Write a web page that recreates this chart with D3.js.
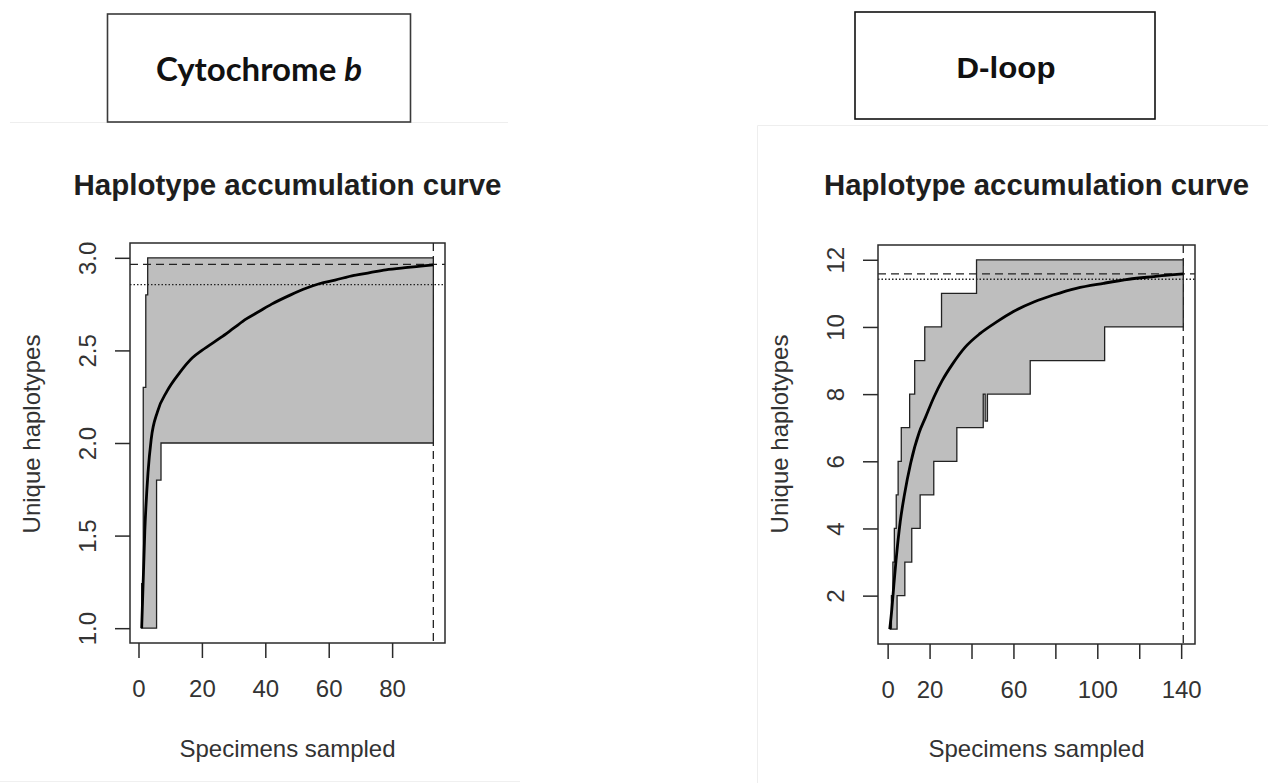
<!DOCTYPE html>
<html><head><meta charset="utf-8">
<script src="https://cdn.jsdelivr.net/npm/d3@7"></script>
<style>body{margin:0;background:#fff} svg{display:block}</style>
</head><body>
<svg id="c" width="1268" height="783"></svg>
<script>
// ---------- text ----------
const headerLeft = "Cytochrome ";
const headerLeftItalic = "b";
const headerRight = "D-loop";
const mainTitle = "Haplotype accumulation curve";
const xLabel = "Specimens sampled";
const yLabel = "Unique haplotypes";

// ---------- Cytochrome b ----------
const cytN = 93;
const cytYRange = [1, 3];
const cytMeanX = [1, 2, 3, 4, 6, 9, 13, 17, 20, 26, 30, 34, 38, 42, 48, 52, 57, 62, 68, 73, 78, 85, 89, 93];
const cytMeanY = [1.0, 1.53, 1.84, 2.02, 2.17, 2.28, 2.38, 2.46, 2.5, 2.57, 2.62, 2.67, 2.71, 2.75, 2.8, 2.83, 2.86, 2.88, 2.905, 2.92, 2.935, 2.948, 2.955, 2.962];
const cytUpperX = [1, 1.5, 2.3, 2.9];
const cytUpperY = [1.24, 2.3, 2.8, 3.0];
const cytLowerX = [1, 5.7, 7.1];
const cytLowerY = [1.0, 1.8, 2.0];
const cytDashed = 2.965;
const cytDotted = 2.855;
const cytXTicks = [0, 20, 40, 60, 80];
const cytXTickLabels = ["0", "20", "40", "60", "80"];
const cytYTicks = [1.0, 1.5, 2.0, 2.5, 3.0];
const cytYTickLabels = ["1.0", "1.5", "2.0", "2.5", "3.0"];

// ---------- D-loop ----------
const dlpN = 141;
const dlpYRange = [1, 12];
const dlpMeanX = [1, 2, 3, 4, 6, 8, 11, 15, 18, 22, 26, 31, 37, 44, 52, 60, 70, 79, 90, 103, 115, 127, 135, 141];
const dlpMeanY = [1.0, 1.6, 2.35, 3.05, 4.2, 5.0, 5.95, 6.85, 7.3, 7.9, 8.4, 8.9, 9.4, 9.8, 10.15, 10.46, 10.75, 10.95, 11.15, 11.3, 11.42, 11.5, 11.55, 11.58];
const dlpUpperX = [1, 1.8, 2.5, 3.2, 4.1, 5, 6.5, 10.5, 12.9, 17.7, 25.7, 42.4];
const dlpUpperY = [1, 2, 3, 4, 5, 6, 7, 8, 9, 10, 11, 12];
const dlpLowerX = [1, 4.5, 8.2, 11.5, 15.5, 22, 33, 45.6, 46.5, 47.6, 68, 103.5];
const dlpLowerY = [1, 2, 3, 4, 5, 6, 7, 8, 7.2, 8, 9, 10];
const dlpDashed = 11.58;
const dlpDotted = 11.42;
const dlpXTicks = [0, 20, 40, 60, 80, 100, 120, 140];
const dlpXTickLabels = ["0", "20", "", "60", "", "100", "", "140"];
const dlpYTicks = [2, 4, 6, 8, 10, 12];
const dlpYTickLabels = ["2", "4", "6", "8", "10", "12"];

// ---------- drawing ----------
const svg = d3.select("#c");
const INK = "#1e1e1e";
const FONT = "'Liberation Sans', Arial, sans-serif";

// faint photo edges
svg.append("line").attr("x1", 10).attr("x2", 508).attr("y1", 122.5).attr("y2", 122.5).attr("stroke", "#eeeeee");
svg.append("line").attr("x1", 0).attr("x2", 520).attr("y1", 781.5).attr("y2", 781.5).attr("stroke", "#f0f0f0");
svg.append("path").attr("d", "M757.5,783 V125.5 H1268").attr("fill", "none").attr("stroke", "#eeeeee");

// header boxes
svg.append("rect").attr("x", 107.5).attr("y", 14).attr("width", 303).attr("height", 108)
  .attr("fill", "#fff").attr("stroke", "#3a3a3a").attr("stroke-width", 1.6);
const hl = svg.append("text").attr("x", 259).attr("y", 81).attr("text-anchor", "middle")
  .attr("font-family", "Lato, 'Open Sans', sans-serif").attr("font-weight", 700).attr("font-size", 33).attr("fill", "#111");
hl.append("tspan").text(headerLeft);
hl.append("tspan").attr("font-style", "italic").text(headerLeftItalic);

svg.append("rect").attr("x", 855).attr("y", 12).attr("width", 300).attr("height", 107)
  .attr("fill", "#fff").attr("stroke", "#111").attr("stroke-width", 1.6);
svg.append("text").attr("x", 1006).attr("y", 78).attr("text-anchor", "middle")
  .attr("font-family", FONT).attr("font-weight", 700).attr("font-size", 29).attr("fill", "#111")
  .attr("textLength", 99).attr("lengthAdjust", "spacingAndGlyphs").text(headerRight);

function stepVerts(xs, ys, xEnd) {
  const v = [];
  for (let i = 0; i < xs.length; i++) {
    if (i > 0) v.push([xs[i], ys[i - 1]]);
    v.push([xs[i], ys[i]]);
  }
  v.push([xEnd, ys[ys.length - 1]]);
  return v;
}

function panel(cfg) {
  const {box, N, yRange} = cfg;
  const xPad = 0.04 * (N - 1), yPad = 0.04 * (yRange[1] - yRange[0]);
  const x = d3.scaleLinear().domain([1 - xPad, N + xPad]).range([box.x0, box.x1]);
  const y = d3.scaleLinear().domain([yRange[0] - yPad, yRange[1] + yPad]).range([box.y1, box.y0]);
  const g = svg.append("g");

  // title
  g.append("text").attr("x", (box.x0 + box.x1) / 2).attr("y", 195).attr("text-anchor", "middle")
    .attr("font-family", FONT).attr("font-weight", 700).attr("font-size", 29).attr("fill", INK)
    .attr("textLength", cfg.titleLen).attr("lengthAdjust", "spacingAndGlyphs").text(mainTitle);

  // dashed vertical at N
  g.append("line").attr("x1", x(N)).attr("x2", x(N)).attr("y1", box.y0).attr("y2", box.y1)
    .attr("stroke", "#222").attr("stroke-width", 1.3).attr("stroke-dasharray", "8,5");

  // band
  const up = stepVerts(cfg.upperX, cfg.upperY, N);
  const lo = stepVerts(cfg.lowerX, cfg.lowerY, N).reverse();
  const poly = up.concat(lo);
  g.append("path").attr("d", d3.line().x(d => x(d[0])).y(d => y(d[1]))(poly) + "Z")
    .attr("fill", "#bebebe").attr("stroke", "#222").attr("stroke-width", 1.3);

  // horizontal reference lines
  g.append("line").attr("x1", box.x0).attr("x2", box.x1).attr("y1", y(cfg.dashed)).attr("y2", y(cfg.dashed))
    .attr("stroke", "#222").attr("stroke-width", 1.3).attr("stroke-dasharray", "8,5");
  g.append("line").attr("x1", box.x0).attr("x2", box.x1).attr("y1", y(cfg.dotted)).attr("y2", y(cfg.dotted))
    .attr("stroke", "#222").attr("stroke-width", 1.4).attr("stroke-dasharray", "1.5,2");

  // mean curve
  const pts = cfg.meanX.map((v, i) => [v, cfg.meanY[i]]);
  g.append("path").attr("d", d3.line().x(d => x(d[0])).y(d => y(d[1])).curve(d3.curveMonotoneX)(pts))
    .attr("fill", "none").attr("stroke", "#000").attr("stroke-width", 2.8);

  // box
  g.append("rect").attr("x", box.x0).attr("y", box.y0).attr("width", box.x1 - box.x0).attr("height", box.y1 - box.y0)
    .attr("fill", "none").attr("stroke", "#2a2a2a").attr("stroke-width", 1.5);

  // x axis
  const xa = g.append("g").attr("transform", `translate(0,${box.y1})`)
    .call(d3.axisBottom(x).tickValues(cfg.xTicks).tickSize(15).tickFormat((d, i) => cfg.xTickLabels[i]));
  xa.select(".domain").remove();
  xa.selectAll("line").attr("stroke", "#2a2a2a").attr("stroke-width", 1.5);
  xa.selectAll("text").attr("y", 45).attr("dy", "0.36em").attr("font-family", FONT).attr("font-size", 24).attr("fill", "#333");

  // y axis
  const ya = g.append("g").attr("transform", `translate(${box.x0},0)`)
    .call(d3.axisLeft(y).tickValues(cfg.yTicks).tickSize(15).tickFormat((d, i) => cfg.yTickLabels[i]));
  ya.select(".domain").remove();
  ya.selectAll("line").attr("stroke", "#2a2a2a").attr("stroke-width", 1.5);
  ya.selectAll("text").attr("x", null).attr("dy", null).attr("text-anchor", "middle")
    .attr("transform", "translate(-34,0) rotate(-90)")
    .attr("font-family", FONT).attr("font-size", 24).attr("fill", "#333");

  // axis labels
  g.append("text").attr("x", (box.x0 + box.x1) / 2).attr("y", 748).attr("dy", "0.36em").attr("text-anchor", "middle")
    .attr("font-family", FONT).attr("font-size", 24).attr("fill", "#333").text(xLabel);
  g.append("text").attr("transform", `translate(${box.x0 - 99},434) rotate(-90)`).attr("dy", "0.36em")
    .attr("text-anchor", "middle").attr("font-family", FONT).attr("font-size", 24).attr("fill", "#333").text(yLabel);
}

panel({
  box: {x0: 130, x1: 445, y0: 243, y1: 643}, N: cytN, yRange: cytYRange,
  meanX: cytMeanX, meanY: cytMeanY, upperX: cytUpperX, upperY: cytUpperY, lowerX: cytLowerX, lowerY: cytLowerY,
  dashed: cytDashed, dotted: cytDotted, xTicks: cytXTicks, xTickLabels: cytXTickLabels,
  yTicks: cytYTicks, yTickLabels: cytYTickLabels, titleLen: 428
});
panel({
  box: {x0: 878, x1: 1195, y0: 245, y1: 644}, N: dlpN, yRange: dlpYRange,
  meanX: dlpMeanX, meanY: dlpMeanY, upperX: dlpUpperX, upperY: dlpUpperY, lowerX: dlpLowerX, lowerY: dlpLowerY,
  dashed: dlpDashed, dotted: dlpDotted, xTicks: dlpXTicks, xTickLabels: dlpXTickLabels,
  yTicks: dlpYTicks, yTickLabels: dlpYTickLabels, titleLen: 425
});
</script>
</body></html>
